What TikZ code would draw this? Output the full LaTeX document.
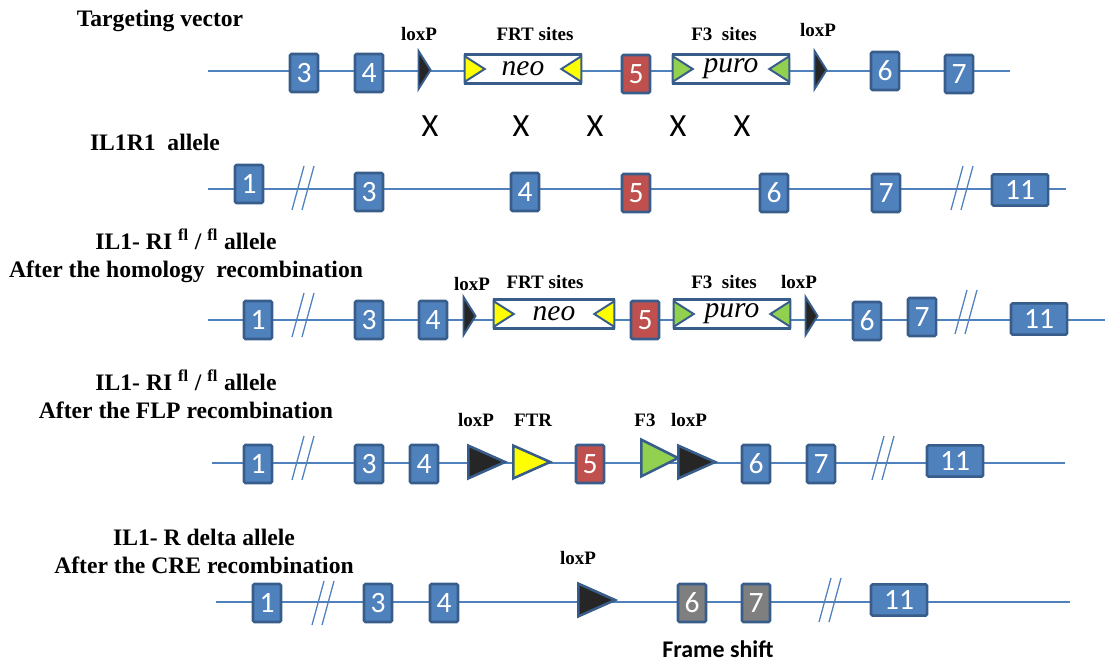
\documentclass[tikz,border=0pt]{standalone}
\usepackage{fontspec}
\setmainfont{Liberation Serif}
\newfontfamily\calibri{Carlito}
\usetikzlibrary{shapes.geometric}
\definecolor{exonblue}{HTML}{4F81BD}
\definecolor{exonedge}{HTML}{385D8A}
\definecolor{exonred}{HTML}{C0504D}
\definecolor{exongrey}{HTML}{7F7F7F}
\definecolor{loxdark}{HTML}{262626}
\definecolor{frtyellow}{HTML}{FFFF00}
\definecolor{fthreegreen}{HTML}{92D050}
\tikzstyle{rowtitle} = [font=\bfseries\fontsize{16.8}{20}\selectfont, align=center, inner sep=0pt]
\tikzstyle{sitelabel} = [font=\bfseries\fontsize{13.5}{14}\selectfont, inner sep=0pt]
\tikzstyle{cross} = [font=\calibri\fontsize{23}{23}\selectfont, inner sep=0pt]
\tikzstyle{dna} = [draw=exonblue, line width=1pt]
\tikzstyle{gap} = [draw=exonblue, line width=0.9pt]
\tikzstyle{exon} = [rectangle, rounded corners=1pt, minimum width=0.7cm, minimum height=0.95cm, inner sep=0pt, draw=exonedge, line width=1.8pt, fill=exonblue, text=white, font=\calibri\fontsize{21}{21}\selectfont]
\tikzstyle{exonred} = [exon, fill=exonred]
\tikzstyle{exongrey} = [exon, fill=exongrey]
\tikzstyle{exonlast} = [exon, minimum width=1.4cm, minimum height=0.78cm]
\tikzstyle{cassette} = [rectangle, minimum width=2.9cm, minimum height=0.72cm, inner sep=0pt, draw=exonedge, line width=1.8pt, fill=white, font=\itshape\fontsize{21}{21}\selectfont]
\tikzstyle{smallsite} = [isosceles triangle, isosceles triangle stretches, inner sep=0pt, minimum height=0.3cm, minimum width=0.95cm, draw=exonedge, line width=1.4pt, fill=loxdark]
\tikzstyle{bigsite} = [isosceles triangle, isosceles triangle stretches, inner sep=0pt, minimum height=0.92cm, minimum width=0.82cm, draw=exonedge, line width=1.8pt, anchor=west]
\tikzstyle{boxsite} = [isosceles triangle, isosceles triangle stretches, inner sep=0pt, minimum height=0.5cm, minimum width=0.64cm, draw=exonedge, line width=1.4pt]

\begin{document}
\begin{tikzpicture}[x=0.025cm, y=-0.025cm]
\useasboundingbox (0,0) rectangle (1110,663);

% targeting vector
\node (tvtitle) [rowtitle] at (160,21) {Targeting vector};
\coordinate (tvs) at (208,71);
\coordinate (tve) at (1010,71);
\draw [dna] (tvs) -- (tve);
\node (tv3) [exon] at (304,73) {3};
\node (tv4) [exon] at (369,73) {4};
\node (tvlox1) [smallsite] at (424,70) {};
\node (tvneo) [cassette] at (523,69) {neo};
\node (tvneoa) [boxsite, fill=frtyellow, anchor=west] at (tvneo.west) {};
\node (tvneob) [boxsite, fill=frtyellow, shape border rotate=180, anchor=east] at (tvneo.east) {};
\node (tv5) [exonred] at (636,74) {5};
\node (tvpuro) [cassette] at (731,69) {puro};
\node (tvpuroa) [boxsite, fill=fthreegreen, anchor=west] at (tvpuro.west) {};
\node (tvpurob) [boxsite, fill=fthreegreen, shape border rotate=180, anchor=east] at (tvpuro.east) {};
\node (tvlox2) [smallsite] at (820,70) {};
\node (tv6) [exon] at (885,71) {6};
\node (tv7) [exon] at (959,74) {7};
\node (tvloxlab1) [sitelabel] at (419,34) {loxP};
\node (tvfrtlab) [sitelabel] at (535,34) {FRT sites};
\node (tvf3lab) [sitelabel] at (724,34) {F3\ \ sites};
\node (tvloxlab2) [sitelabel] at (818,30) {loxP};

% crossing over
\node (xa) [cross] at (430,126) {X};
\node (xb) [cross] at (521,126) {X};
\node (xc) [cross] at (595,126) {X};
\node (xd) [cross] at (678,126) {X};
\node (xe) [cross] at (742,126) {X};

% wild type allele
\node (wttitle) [rowtitle] at (155,142) {IL1R1\ \ allele};
\coordinate (wts) at (208,189);
\coordinate (wte) at (1066,189);
\draw [dna] (wts) -- (wte);
\node (wt1) [exon] at (249,184) {1};
\coordinate (wtbr1) at (303,188);
\draw [gap] ([shift={(-11,22)}]wtbr1) -- ([shift={(1,-22)}]wtbr1);
\draw [gap] ([shift={(-1,22)}]wtbr1) -- ([shift={(11,-22)}]wtbr1);
\node (wt3) [exon] at (369,192) {3};
\node (wt4) [exon] at (525,192) {4};
\node (wt5) [exonred] at (636,193) {5};
\node (wt6) [exon] at (774,193) {6};
\node (wt7) [exon] at (886,193) {7};
\coordinate (wtbr2) at (962,188);
\draw [gap] ([shift={(-11,22)}]wtbr2) -- ([shift={(1,-22)}]wtbr2);
\draw [gap] ([shift={(-1,22)}]wtbr2) -- ([shift={(11,-22)}]wtbr2);
\node (wt11) [exonlast] at (1020,190) {11};

% after homologous recombination
\node (hrtitle) [rowtitle] at (186,256) {IL1- RI \textsuperscript{fl} / \textsuperscript{fl} allele\\After the homology\ \ recombination};
\coordinate (hrs) at (208,320);
\coordinate (hre) at (1105,320);
\draw [dna] (hrs) -- (hre);
\node (hr1) [exon] at (258,320) {1};
\coordinate (hrbr1) at (303,315);
\draw [gap] ([shift={(-11,22)}]hrbr1) -- ([shift={(1,-22)}]hrbr1);
\draw [gap] ([shift={(-1,22)}]hrbr1) -- ([shift={(11,-22)}]hrbr1);
\node (hr3) [exon] at (369,320) {3};
\node (hr4) [exon] at (433,320) {4};
\node (hrlox1) [smallsite] at (469,316) {};
\node (hrneo) [cassette, minimum width=3cm] at (554,314) {neo};
\node (hrneoa) [boxsite, fill=frtyellow, anchor=west] at (hrneo.west) {};
\node (hrneob) [boxsite, fill=frtyellow, shape border rotate=180, anchor=east] at (hrneo.east) {};
\node (hr5) [exonred] at (645,320) {5};
\node (hrpuro) [cassette] at (732,314) {puro};
\node (hrpuroa) [boxsite, fill=fthreegreen, anchor=west] at (hrpuro.west) {};
\node (hrpurob) [boxsite, fill=fthreegreen, shape border rotate=180, anchor=east] at (hrpuro.east) {};
\node (hrlox2) [smallsite] at (811,316) {};
\node (hr6) [exon] at (867,321) {6};
\node (hr7) [exon] at (922,317) {7};
\coordinate (hrbr2) at (966,312);
\draw [gap] ([shift={(-11,22)}]hrbr2) -- ([shift={(1,-22)}]hrbr2);
\draw [gap] ([shift={(-1,22)}]hrbr2) -- ([shift={(11,-22)}]hrbr2);
\node (hr11) [exonlast] at (1039,319) {11};
\node (hrloxlab1) [sitelabel] at (472,284) {loxP};
\node (hrfrtlab) [sitelabel] at (545,282) {FRT sites};
\node (hrf3lab) [sitelabel] at (724,282) {F3\ \ sites};
\node (hrloxlab2) [sitelabel] at (799,282) {loxP};

% after FLP recombination
\node (flptitle) [rowtitle] at (186,394) {IL1- RI \textsuperscript{fl} / \textsuperscript{fl} allele\\After the FLP recombination};
\coordinate (flps) at (212,463);
\coordinate (flpe) at (1065,463);
\draw [dna] (flps) -- (flpe);
\node (flp1) [exon] at (258,464) {1};
\coordinate (flpbr1) at (303,458);
\draw [gap] ([shift={(-11,22)}]flpbr1) -- ([shift={(1,-22)}]flpbr1);
\draw [gap] ([shift={(-1,22)}]flpbr1) -- ([shift={(11,-22)}]flpbr1);
\node (flp3) [exon] at (369,464) {3};
\node (flp4) [exon] at (424,464) {4};
\node (flplox1) [bigsite, fill=loxdark] at (467,462) {};
\node (flpfrt) [bigsite, fill=frtyellow] at (512,462) {};
\node (flp5) [exonred] at (590,464) {5};
\node (flpf3) [bigsite, fill=fthreegreen, minimum width=0.92cm] at (640,458) {};
\node (flplox2) [bigsite, fill=loxdark] at (677,462) {};
\node (flp6) [exon] at (756,464) {6};
\node (flp7) [exon] at (821,464) {7};
\coordinate (flpbr2) at (883,458);
\draw [gap] ([shift={(-11,22)}]flpbr2) -- ([shift={(1,-22)}]flpbr2);
\draw [gap] ([shift={(-1,22)}]flpbr2) -- ([shift={(11,-22)}]flpbr2);
\node (flp11) [exonlast] at (955,461) {11};
\node (flploxlab1) [sitelabel] at (476,420) {loxP};
\node (flpfrtlab) [sitelabel] at (533,420) {FTR};
\node (flpf3lab) [sitelabel] at (645,420) {F3};
\node (flploxlab2) [sitelabel] at (689,420) {loxP};

% after CRE recombination
\node (cretitle) [rowtitle] at (204,551) {IL1- R delta allele\\After the CRE recombination};
\coordinate (cres) at (216,602);
\coordinate (cree) at (1070,602);
\draw [dna] (cres) -- (cree);
\node (cre1) [exon] at (267,603) {1};
\coordinate (crebr1) at (323,603);
\draw [gap] ([shift={(-11,22)}]crebr1) -- ([shift={(1,-22)}]crebr1);
\draw [gap] ([shift={(-1,22)}]crebr1) -- ([shift={(11,-22)}]crebr1);
\node (cre3) [exon] at (378,603) {3};
\node (cre4) [exon] at (444,603) {4};
\node (crelox) [bigsite, fill=loxdark] at (577,600) {};
\node (cre6) [exongrey] at (692,603) {6};
\node (cre7) [exongrey] at (756,603) {7};
\coordinate (crebr2) at (830,600);
\draw [gap] ([shift={(-11,22)}]crebr2) -- ([shift={(1,-22)}]crebr2);
\draw [gap] ([shift={(-1,22)}]crebr2) -- ([shift={(11,-22)}]crebr2);
\node (cre11) [exonlast] at (899,600) {11};
\node (creloxlab) [sitelabel] at (578,558) {loxP};
\node (frameshift) [font=\calibri\bfseries\fontsize{17}{17}\selectfont, inner sep=0pt] at (718,649) {Frame shift};
\end{tikzpicture}
\end{document}
